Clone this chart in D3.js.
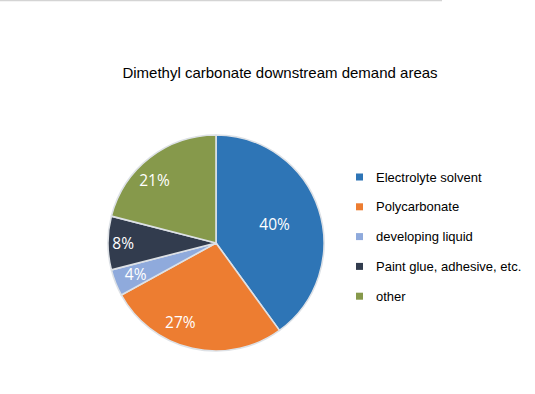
<!DOCTYPE html>
<html>
<head>
<meta charset="utf-8">
<script src="https://cdn.jsdelivr.net/npm/d3@7"></script>
<style>
  html, body { margin: 0; padding: 0; background: #fff; }
  svg { display: block; }
</style>
</head>
<body>
<div id="chart"></div>
<script>
// chart data
const categories = ['Electrolyte solvent', 'Polycarbonate', 'developing liquid', 'Paint glue, adhesive, etc.', 'other'];
const shares = [40, 27, 4, 8, 21];
const sliceColors = ['#2e75b6', '#ed7d31', '#8faadc', '#323c4e', '#86994b'];
const chartTitle = 'Dimethyl carbonate downstream demand areas';

const width = 535;
const height = 394;

const svg = d3.select('#chart')
  .append('svg')
  .attr('width', width)
  .attr('height', height);

// thin grey rule along the top edge
svg.append('line')
  .attr('x1', 0).attr('x2', 442)
  .attr('y1', 0.5).attr('y2', 0.5)
  .attr('stroke', '#d4d4d4')
  .attr('stroke-width', 1.5);

svg.append('text')
  .attr('x', 280)
  .attr('y', 78)
  .attr('text-anchor', 'middle')
  .style('font-family', '"Liberation Sans", Arial, sans-serif')
  .style('font-size', '15px')
  .style('fill', '#000')
  .text(chartTitle);

const color = d3.scaleOrdinal().domain(categories).range(sliceColors);

const radius = 108;
const cx = 216;
const cy = 243;

const pie = d3.pie().sort(null).value(d => d.value);
const arcs = pie(categories.map((c, i) => ({ name: c, value: shares[i] })));

const arc = d3.arc().innerRadius(0).outerRadius(radius);

const g = svg.append('g').attr('transform', `translate(${cx},${cy})`);

g.selectAll('path.slice')
  .data(arcs)
  .enter()
  .append('path')
  .attr('class', 'slice')
  .attr('d', arc)
  .attr('fill', d => color(d.data.name))
  .attr('stroke', '#dde1e6')
  .attr('stroke-width', 1.6)
  .attr('stroke-linejoin', 'round');

// label placement: big slice sits nearer the centre, small ones out near the rim
const labelRadius = d => {
  const span = d.endAngle - d.startAngle;
  if (span > Math.PI * 0.6) return 0.57 * radius;
  if (span < Math.PI * 0.12) return 0.8 * radius;
  if (span < Math.PI * 0.2) return 0.86 * radius;
  return 0.81 * radius;
};
const labelNudge = { 'Polycarbonate': 0.2, 'other': -0.12 };

g.selectAll('text.pct')
  .data(arcs)
  .enter()
  .append('text')
  .attr('class', 'pct')
  .attr('transform', d => {
    const r = labelRadius(d);
    const a = (d.startAngle + d.endAngle) / 2 + (labelNudge[d.data.name] || 0);
    const la = d3.arc().innerRadius(r).outerRadius(r);
    const [x, y] = la.centroid({ startAngle: a, endAngle: a });
    return `translate(${x},${y})`;
  })
  .attr('text-anchor', 'middle')
  .attr('dy', '0.36em')
  .style('font-family', '"Open Sans", "Noto Sans", sans-serif')
  .style('font-size', '15.5px')
  .style('fill', '#fff')
  .text(d => `${d.data.value}%`);

// legend
const legend = svg.append('g').attr('transform', 'translate(356,177)');
const rowStep = 29.8;

const rows = legend.selectAll('g.row')
  .data(categories)
  .enter()
  .append('g')
  .attr('class', 'row')
  .attr('transform', (d, i) => `translate(0,${i * rowStep})`);

rows.append('rect')
  .attr('x', 0)
  .attr('y', -3.5)
  .attr('width', 7)
  .attr('height', 7)
  .attr('fill', d => color(d));

rows.append('text')
  .attr('x', 20)
  .attr('y', 0)
  .attr('dy', '0.35em')
  .style('font-family', '"Liberation Sans", Arial, sans-serif')
  .style('font-size', '13px')
  .style('fill', '#000')
  .text(d => d);
</script>
</body>
</html>
